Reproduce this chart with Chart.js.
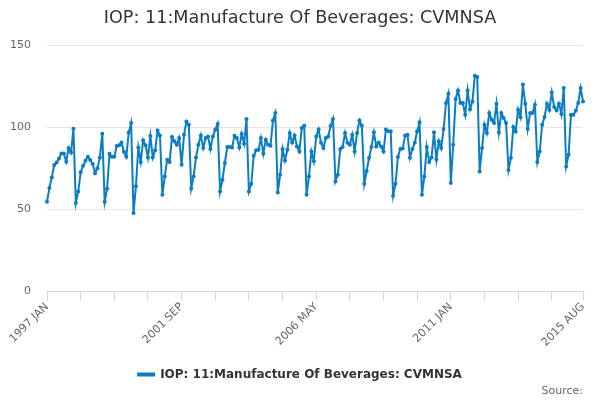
<!DOCTYPE html>
<html>
<head>
<meta charset="utf-8">
<script src="https://cdn.jsdelivr.net/npm/chart.js@4.4.1/dist/chart.umd.min.js"></script>
<style>
  html, body { margin: 0; padding: 0; background: #fff; }
  #wrap { width: 600px; height: 400px; }
</style>
</head>
<body>
<div id="wrap"><canvas id="chart"></canvas></div>
<script>
// monthly index values, one array per year
const years = [1997, 1998, 1999, 2000, 2001, 2002, 2003, 2004, 2005, 2006,
               2007, 2008, 2009, 2010, 2011, 2012, 2013, 2014, 2015];
const months = ['JAN', 'FEB', 'MAR', 'APR', 'MAY', 'JUN', 'JUL', 'AUG', 'SEP', 'OCT', 'NOV', 'DEC'];

const v1997 = [54.6, 63, 69.4, 77, 78.5, 81, 84, 84, 79, 87.3, 84.6, 99];
const v1998 = [53.8, 60.9, 72.5, 76.5, 79.6, 82, 80, 77.6, 72, 75, 81.6, 96];
const v1999 = [54.6, 62.5, 83.8, 82, 82, 88.5, 89, 90.7, 85, 82, 96.8, 102.5];
const v2000 = [47.7, 64, 87.7, 78.8, 92, 89, 81.5, 94.7, 81.5, 86, 98, 95];
const v2001 = [58.8, 70, 80.2, 78.8, 94, 91.4, 89.3, 93.4, 77.1, 95.4, 103.5, 101.5];
const v2002 = [62.7, 70, 81.6, 89.3, 95, 87.3, 93.4, 94.4, 86.7, 94.4, 98.5, 102];
const v2003 = [60.9, 68, 78.2, 87.9, 87.9, 87.6, 94.8, 93.4, 87.6, 96, 90, 105];
const v2004 = [60.9, 65.5, 82.6, 85.9, 86.3, 93.4, 83.8, 92.4, 89.3, 88.7, 104.1, 108.6];
const v2005 = [60.3, 71, 86.8, 79.8, 86.3, 96.5, 90.7, 95, 88.3, 85.2, 99.5, 100.9];
const v2006 = [58.8, 70, 85.2, 79.2, 94.3, 98.6, 90.6, 87.3, 93.4, 94.4, 100.9, 105];
const v2007 = [67, 71, 86.8, 88, 96.5, 90.6, 89.3, 95.4, 85.2, 96.5, 104.1, 100.9];
const v2008 = [65.5, 73.3, 81.4, 88, 96.9, 88.3, 90.7, 88.3, 85.2, 98.6, 97.5, 97.5];
const v2009 = [58.2, 65.5, 81.9, 86.8, 87, 95, 95.4, 81.4, 86.7, 90.6, 97.5, 103];
const v2010 = [58.8, 70, 88, 78.8, 81.5, 96.9, 80.3, 91.5, 87.3, 98.9, 114.7, 120.4];
const v2011 = [66, 89.3, 117.2, 122.4, 114.7, 114.7, 107.6, 122.4, 111, 115.7, 131.4, 130.6];
const v2012 = [73, 87.3, 101.5, 96.5, 108.7, 104.6, 102.6, 114.3, 96.8, 108.7, 105.6, 102.6];
const v2013 = [74, 81.2, 100.1, 97.4, 110.7, 106, 126, 114.3, 98.9, 108.7, 108.7, 113.7];
const v2014 = [78.8, 85.2, 101.5, 106.2, 114.3, 110.5, 121.2, 112.3, 110.2, 114.3, 108, 123.9];
const v2015 = [76.1, 83.3, 107.6, 107.6, 110, 114.7, 123.9, 115.7];

const yTicks = [0, 50, 100, 150];
const seriesName = 'IOP: 11:Manufacture Of Beverages: CVMNSA';

const values = [].concat(v1997, v1998, v1999, v2000, v2001, v2002, v2003, v2004,
  v2005, v2006, v2007, v2008, v2009, v2010, v2011, v2012, v2013, v2014, v2015);

const labels = [];
years.forEach(y => months.forEach(m => labels.push(y + ' ' + m)));
labels.length = values.length;

const lastIdx = values.length - 1;
const lineColor = '#0b7dc1';
const font = "'DejaVu Sans', sans-serif";

new Chart(document.getElementById('chart'), {
  type: 'line',
  data: {
    labels: labels,
    datasets: [{
      label: seriesName,
      data: values,
      borderColor: lineColor,
      backgroundColor: lineColor,
      borderWidth: 2,
      pointRadius: 2,
      pointBorderWidth: 0,
      pointBackgroundColor: lineColor,
      tension: 0
    }]
  },
  options: {
    responsive: true,
    maintainAspectRatio: false,
    animation: false,
    layout: { padding: { left: 0, right: 0, top: 8, bottom: 2 } },
    plugins: {
      tooltip: { enabled: false },
      title: {
        display: true,
        text: seriesName,
        color: '#333333',
        font: { family: font, size: 17.6, weight: 'normal' },
        padding: { top: 0, bottom: 16 }
      },
      subtitle: {
        display: true,
        fullSize: false,
        text: 'Source:',
        position: 'bottom',
        align: 'end',
        color: '#666666',
        font: { family: font, size: 11, weight: 'normal' },
        padding: { top: -5.6, bottom: 0 }
      },
      legend: {
        position: 'bottom',
        labels: {
          color: '#333333',
          font: { family: font, size: 12, weight: 'bold' },
          boxWidth: 16,
          boxHeight: 2,
          padding: 8
        }
      }
    },
    scales: {
      x: {
        offset: false,
        border: { color: '#ccd6eb' },
        grid: {
          drawOnChartArea: false,
          tickLength: 9,
          color: ctx => (ctx.index % 14 === 0 || ctx.index === lastIdx) ? '#ccd6eb' : 'rgba(0,0,0,0)'
        },
        ticks: {
          autoSkip: false,
          minRotation: 45,
          maxRotation: 45,
          color: '#666666',
          font: { family: font, size: 11 },
          padding: 0,
          callback: (val, i) => (i % 56 === 0 || i === lastIdx) ? labels[i] : ''
        },
        // keep the plot's right edge off the page border
        afterFit: s => { s.height = 69; s.paddingRight = 17; }
      },
      y: {
        min: 0,
        max: 150,
        border: { display: false },
        grid: { color: '#e6e6e6', drawTicks: false },
        afterBuildTicks: s => { s.ticks = yTicks.map(v => ({ value: v })); },
        ticks: {
          color: '#666666',
          font: { family: font, size: 11 },
          padding: 16
        },
        afterFit: s => { s.width = 47; }
      }
    }
  }
});
</script>
</body>
</html>
